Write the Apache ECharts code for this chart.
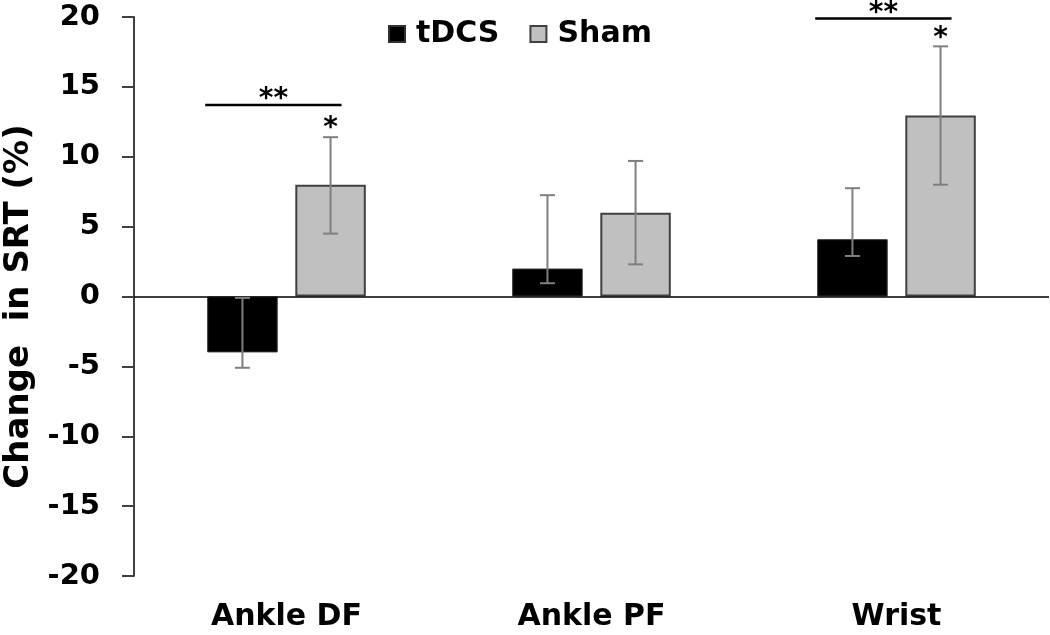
<!DOCTYPE html>
<html>
<head>
<meta charset="utf-8">
<script src="https://cdn.jsdelivr.net/npm/echarts@6/dist/echarts.min.js"></script>
<style>html,body{margin:0;padding:0;background:#fff;}#c{width:1050px;height:635px;}</style>
</head>
<body>
<div id="c"></div>
<script>
// ---- data ----
const categories = ['Ankle DF', 'Ankle PF', 'Wrist'];
const tdcsValues = [-4, 2, 4.1];
const tdcsErrLow = [-5.1, 0.95, 2.9];
const tdcsErrHigh = [-0.1, 7.25, 7.75];
const shamValues = [8, 6, 12.95];
const shamErrLow = [4.5, 2.3, 8.0];
const shamErrHigh = [11.4, 9.7, 17.9];
const shamStars = ['*', '', '*'];
const brackets = [ // [category index, y value, label]
  [0, 13.7, '**'],
  [2, 19.9, '**']
];
const yTicks = { min: -20, max: 20, interval: 5 };

// ---- layout constants ----
const FONT = 'DejaVu Sans';
const CAT_GAP = 0.48, BAR_GAP = 0.25;
function barWidth(band) { return band * (1 - CAT_GAP) / (2 + BAR_GAP); }
function barCenterOffset(band) { const bw = barWidth(band); return (bw + bw * BAR_GAP) / 2; }

function errData(low, high) { return categories.map((c, i) => [i, low[i], high[i]]); }

function errRender(sign) {
  return function (params, api) {
    const band = api.size([1, 0])[0];
    const cx = api.coord([api.value(0), 0])[0] + sign * barCenterOffset(band);
    const yl = api.coord([api.value(0), api.value(1)])[1];
    const yh = api.coord([api.value(0), api.value(2)])[1];
    const cap = 7.5;
    const st = { stroke: '#7f7f7f', lineWidth: 2 };
    return { type: 'group', children: [
      { type: 'line', shape: { x1: cx, y1: yl, x2: cx, y2: yh }, style: st },
      { type: 'line', shape: { x1: cx - cap, y1: yl, x2: cx + cap, y2: yl }, style: st },
      { type: 'line', shape: { x1: cx - cap, y1: yh, x2: cx + cap, y2: yh }, style: st }
    ]};
  };
}

const chart = echarts.init(document.getElementById('c'), null, { renderer: 'canvas' });
chart.setOption({
  animation: false,
  backgroundColor: '#fff',
  grid: { left: 134, right: 1, top: 17, bottom: 59, containLabel: false, outerBoundsMode: 'none' },
  legend: {
    data: ['tDCS', 'Sham'],
    left: 383, top: 14,
    itemWidth: 16, itemHeight: 16, itemGap: 30,
    icon: 'rect',
    textStyle: { fontFamily: FONT, fontWeight: 'bold', fontSize: 30, color: '#000', padding: [0, 0, 0, 6] }
  },
  xAxis: {
    type: 'category',
    data: categories,
    position: 'bottom',
    axisLine: { show: false, onZero: false },
    axisTick: { show: false },
    axisLabel: { fontFamily: FONT, fontWeight: 'bold', fontSize: 30, color: '#000', margin: 26 },
    splitLine: { show: false }
  },
  yAxis: {
    type: 'value',
    min: yTicks.min, max: yTicks.max, interval: yTicks.interval,
    name: 'Change  in SRT (%)',
    nameLocation: 'middle',
    nameRotate: 90,
    nameGap: 98,
    nameTextStyle: { fontFamily: FONT, fontWeight: 'bold', fontSize: 34, color: '#000', padding: [0, 20, 0, 0] },
    axisLine: { show: true, lineStyle: { color: '#404040', width: 2 } },
    axisTick: { show: true, inside: false, length: 12, lineStyle: { color: '#404040', width: 2 } },
    axisLabel: { fontFamily: FONT, fontWeight: 'bold', fontSize: 29, color: '#000', margin: 34 },
    splitLine: { show: false }
  },
  series: [
    {
      name: 'tDCS', type: 'bar', data: tdcsValues,
      barCategoryGap: (CAT_GAP * 100) + '%', barGap: (BAR_GAP * 100) + '%',
      itemStyle: { color: '#000', borderColor: '#303030', borderWidth: 1 },
      markLine: {
        silent: true, symbol: 'none', label: { show: false },
        lineStyle: { color: '#000', width: 1.5, type: 'solid' },
        data: [{ yAxis: 0 }]
      }
    },
    {
      name: 'Sham', type: 'bar', data: shamValues,
      barCategoryGap: (CAT_GAP * 100) + '%', barGap: (BAR_GAP * 100) + '%',
      itemStyle: { color: '#c0c0c0', borderColor: '#404040', borderWidth: 2 }
    },
    {
      type: 'custom', name: 'tDCS err', data: errData(tdcsErrLow, tdcsErrHigh),
      renderItem: errRender(-1), encode: { x: 0, y: [1, 2] }, z: 5, silent: true
    },
    {
      type: 'custom', name: 'Sham err', data: errData(shamErrLow, shamErrHigh),
      renderItem: errRender(1), encode: { x: 0, y: [1, 2] }, z: 5, silent: true
    },
    {
      type: 'custom', name: 'stars', silent: true, z: 6,
      data: categories.map((c, i) => [i, shamErrHigh[i]]),
      encode: { x: 0, y: 1 },
      renderItem: function (params, api) {
        const i = api.value(0);
        const label = shamStars[i];
        if (!label) return null;
        const band = api.size([1, 0])[0];
        const cx = api.coord([i, 0])[0] + barCenterOffset(band);
        const y = api.coord([i, api.value(1)])[1];
        return { type: 'text', style: { text: label, x: cx, y: y + 6, align: 'center', verticalAlign: 'bottom',
          fontFamily: FONT, fontWeight: 'bold', fontSize: 28, fill: '#000' } };
      }
    },
    {
      type: 'custom', name: 'brackets', silent: true, z: 6,
      data: brackets.map(b => [b[0], b[1]]),
      encode: { x: 0, y: 1 },
      renderItem: function (params, api) {
        const i = api.value(0);
        const band = api.size([1, 0])[0];
        const c = api.coord([i, api.value(1)]);
        const off = barCenterOffset(band), bw = barWidth(band);
        const x1 = c[0] - off - bw / 2 - 2;
        const x2 = c[0] + off + 11;
        const label = brackets[params.dataIndex][2];
        return { type: 'group', children: [
          { type: 'line', shape: { x1: x1, y1: c[1], x2: x2, y2: c[1] }, style: { stroke: '#000', lineWidth: 2.5 } },
          { type: 'text', style: { text: label, x: (x1 + x2) / 2, y: c[1] + 9, align: 'center', verticalAlign: 'bottom',
            fontFamily: FONT, fontWeight: 'bold', fontSize: 28, fill: '#000' } }
        ]};
      }
    }
  ]
});
</script>
</body>
</html>
